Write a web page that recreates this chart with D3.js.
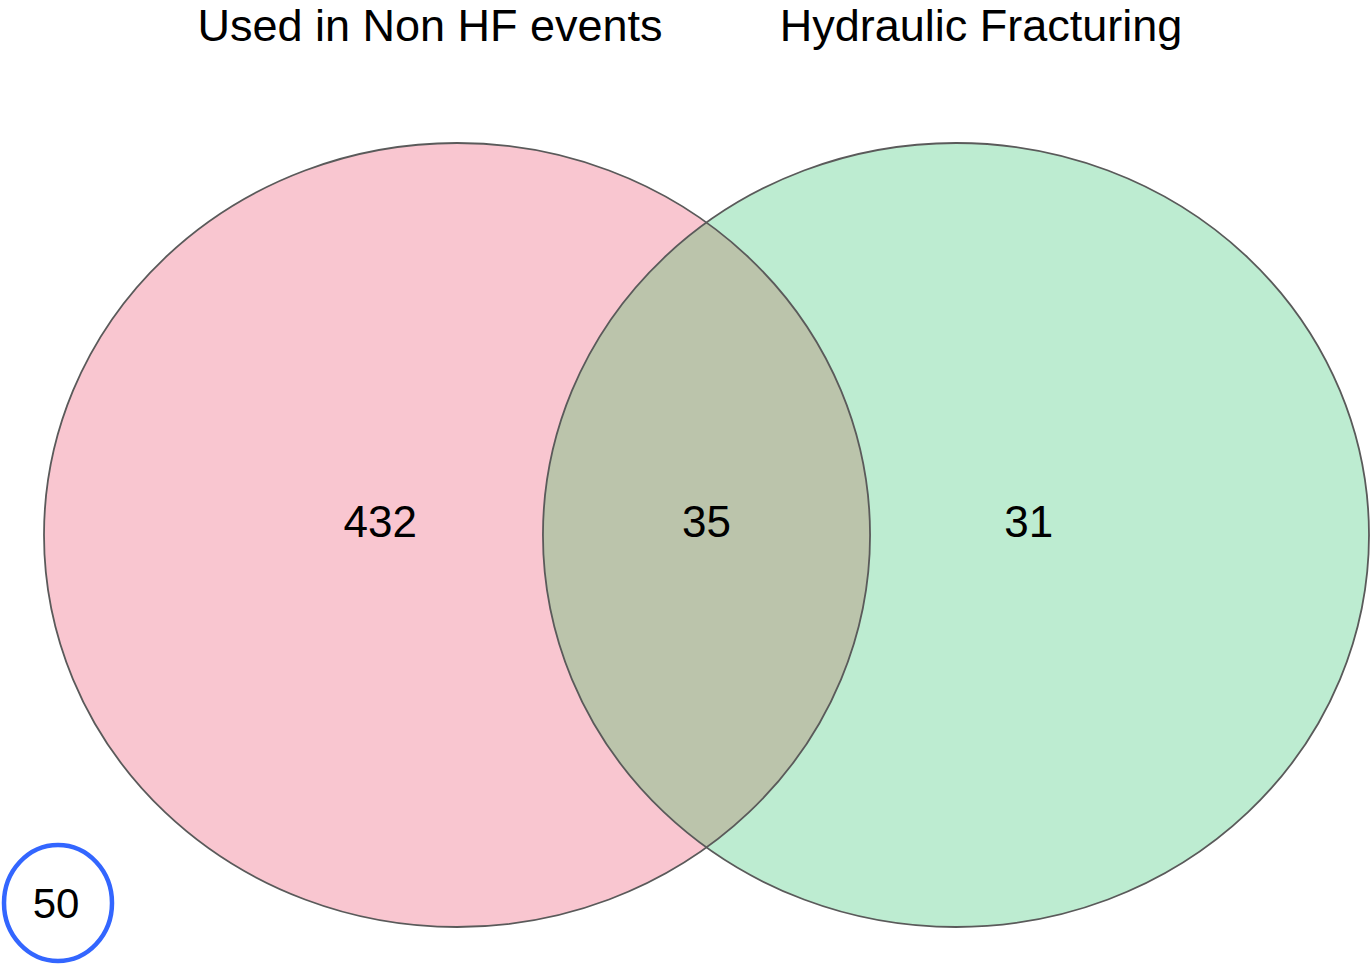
<!DOCTYPE html>
<html>
<head>
<meta charset="utf-8" />
<title>venn</title>
<script src="https://cdn.jsdelivr.net/npm/d3@7"></script>
<style>
  html, body { margin: 0; padding: 0; background: #fff; }
  text { font-family: "Liberation Sans", Arial, sans-serif; }
</style>
</head>
<body>
<svg width="1371" height="966"></svg>
<script>
// data
var setNames = ["Used in Non HF events", "Hydraulic Fracturing"]
var regionLabels = ["Non HF only", "Both", "HF only"]
var regionCounts = [432, 35, 31]
var outsideCount = 50

var svg = d3.select("svg")

// abstract venn layout: circle centres at -0.5 / +0.5 of the shift, radius 1
var shift = 1.208
var xScale = d3.scaleLinear().domain([-1 - shift / 2, 1 + shift / 2]).range([44, 1369])
var yScale = d3.scaleLinear().domain([-1, 1]).range([143, 927])

var circles = [
  {name: setNames[0], cx: -shift / 2, fill: "#f9c6d0"},
  {name: setNames[1], cx: shift / 2, fill: "#bdecd1"}
]
var rx = xScale(1) - xScale(0)
var ry = yScale(1) - yScale(0)

var defs = svg.append("defs")
defs.append("clipPath").attr("id", "clipLeft")
  .append("ellipse")
  .attr("cx", xScale(circles[0].cx)).attr("cy", yScale(0))
  .attr("rx", rx).attr("ry", ry)

// fills
svg.selectAll(".set").data(circles).enter()
  .append("ellipse")
  .attr("class", "set")
  .attr("cx", d => xScale(d.cx))
  .attr("cy", yScale(0))
  .attr("rx", rx).attr("ry", ry)
  .attr("fill", d => d.fill)

// overlap
svg.append("ellipse")
  .attr("clip-path", "url(#clipLeft)")
  .attr("cx", xScale(circles[1].cx)).attr("cy", yScale(0))
  .attr("rx", rx).attr("ry", ry)
  .attr("fill", "#bbc4ab")

// outlines
svg.selectAll(".outline").data(circles).enter()
  .append("ellipse")
  .attr("class", "outline")
  .attr("cx", d => xScale(d.cx))
  .attr("cy", yScale(0))
  .attr("rx", rx).attr("ry", ry)
  .attr("fill", "none")
  .attr("stroke", "#5a5a5a")
  .attr("stroke-width", 1.8)

// set titles
var titleX = [430, 981]
svg.selectAll(".title").data(setNames).enter()
  .append("text")
  .attr("class", "title")
  .attr("x", (d, i) => titleX[i])
  .attr("y", 41)
  .attr("text-anchor", "middle")
  .attr("font-size", 45)
  .attr("fill", "#000")
  .text(d => d)

// region counts
var regionX = [-0.79, 0, 0.78]
svg.selectAll(".count").data(regionCounts).enter()
  .append("text")
  .attr("class", "count")
  .attr("x", (d, i) => xScale(regionX[i]))
  .attr("y", yScale(0) + 2)
  .attr("text-anchor", "middle")
  .attr("font-size", 44)
  .attr("fill", "#000")
  .text(d => d)

// outside count
var og = svg.append("g").attr("transform", "translate(58,903)")
og.append("ellipse")
  .attr("rx", 54).attr("ry", 58)
  .attr("fill", "none")
  .attr("stroke", "#3366ff")
  .attr("stroke-width", 4.5)
og.append("text")
  .attr("x", -2).attr("y", 15)
  .attr("text-anchor", "middle")
  .attr("font-size", 42)
  .text(outsideCount)
</script>
</body>
</html>
